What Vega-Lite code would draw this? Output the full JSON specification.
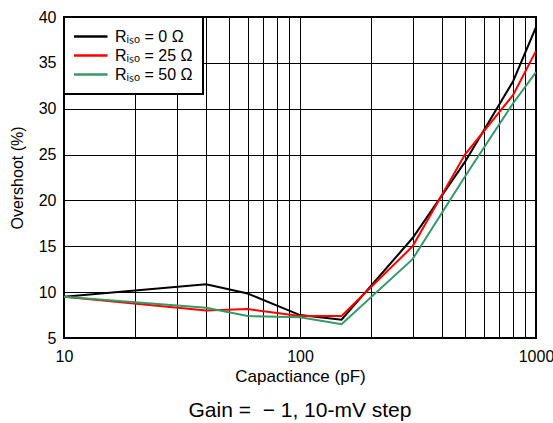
{
  "$schema": "https://vega.github.io/schema/vega-lite/v6.json",
  "width": 472,
  "height": 321,
  "autosize": "none",
  "padding": {"left": 64, "top": 17, "right": 17, "bottom": 85},
  "background": "white",
  "title": {"text": "Gain = \u00a0− 1, 10-mV step", "orient": "bottom", "anchor": "middle", "font": "Liberation Sans", "fontSize": 21, "fontWeight": "normal", "color": "black", "offset": 16},
  "config": {
    "view": {"stroke": "black", "strokeWidth": 2},
    "axis": {"labelFont": "Liberation Sans", "titleFont": "Liberation Sans", "labelFontSize": 16, "titleFontSize": 17, "titleFontWeight": "normal", "labelColor": "black", "titleColor": "black", "gridColor": "black", "gridOpacity": 1, "gridWidth": 1, "ticks": false, "domain": false},
    "legend": {"labelFont": "Liberation Sans", "labelFontSize": 16, "labelColor": "black"}
  },
  "data": {"values": [
    {"c": 10, "v": 9.5, "s": "R0"},
    {"c": 40, "v": 10.85, "s": "R0"},
    {"c": 60, "v": 9.85, "s": "R0"},
    {"c": 100, "v": 7.5, "s": "R0"},
    {"c": 150, "v": 7.0, "s": "R0"},
    {"c": 300, "v": 15.9, "s": "R0"},
    {"c": 500, "v": 24.2, "s": "R0"},
    {"c": 800, "v": 33.0, "s": "R0"},
    {"c": 1000, "v": 38.9, "s": "R0"},
    {"c": 10, "v": 9.5, "s": "R25"},
    {"c": 40, "v": 8.0, "s": "R25"},
    {"c": 60, "v": 8.15, "s": "R25"},
    {"c": 100, "v": 7.4, "s": "R25"},
    {"c": 150, "v": 7.4, "s": "R25"},
    {"c": 300, "v": 15.0, "s": "R25"},
    {"c": 500, "v": 25.0, "s": "R25"},
    {"c": 800, "v": 31.5, "s": "R25"},
    {"c": 1000, "v": 36.3, "s": "R25"},
    {"c": 10, "v": 9.5, "s": "R50"},
    {"c": 40, "v": 8.3, "s": "R50"},
    {"c": 60, "v": 7.4, "s": "R50"},
    {"c": 100, "v": 7.25, "s": "R50"},
    {"c": 150, "v": 6.5, "s": "R50"},
    {"c": 300, "v": 13.6, "s": "R50"},
    {"c": 500, "v": 22.6, "s": "R50"},
    {"c": 800, "v": 30.6, "s": "R50"},
    {"c": 1000, "v": 34.0, "s": "R50"}
  ]},
  "mark": {"type": "line", "strokeWidth": 2, "clip": true},
  "encoding": {
    "x": {"field": "c", "type": "quantitative", "scale": {"type": "log", "domain": [10, 1000], "nice": false},
      "axis": {"title": "Capactiance (pF)", "values": [10,20,30,40,50,60,70,80,90,100,200,300,400,500,600,700,800,900,1000],
        "labelExpr": "indexof([10,100,1000], datum.value) >= 0 ? format(datum.value, 'd') : ''",
        "labelFlush": false, "labelPadding": 10, "titlePadding": 4, "labelOverlap": false}},
    "y": {"field": "v", "type": "quantitative", "scale": {"domain": [5, 40], "nice": false, "zero": false},
      "axis": {"title": "Overshoot (%)", "titleFontSize": 16, "values": [5,10,15,20,25,30,35,40], "labelPadding": 8, "titlePadding": 13}},
    "color": {"field": "s", "type": "nominal",
      "scale": {"domain": ["R0", "R25", "R50"], "range": ["#000000", "#ff0000", "#339966"]},
      "legend": {"title": null, "orient": "top-left", "offset": 0, "fillColor": "white", "strokeColor": "black", "padding": 10,
        "symbolType": "stroke", "symbolSize": 1156, "symbolStrokeWidth": 2.5, "symbolOffset": -2, "labelOffset": 6, "rowPadding": 0, "clipHeight": 19,
        "labelExpr": "datum.value == 'R0' ? 'Rᵢₛₒ = 0 Ω' : datum.value == 'R25' ? 'Rᵢₛₒ = 25 Ω' : 'Rᵢₛₒ = 50 Ω'",
        "encode": {"legend": {"update": {"strokeWidth": {"value": 2}}}}}}
  }
}
